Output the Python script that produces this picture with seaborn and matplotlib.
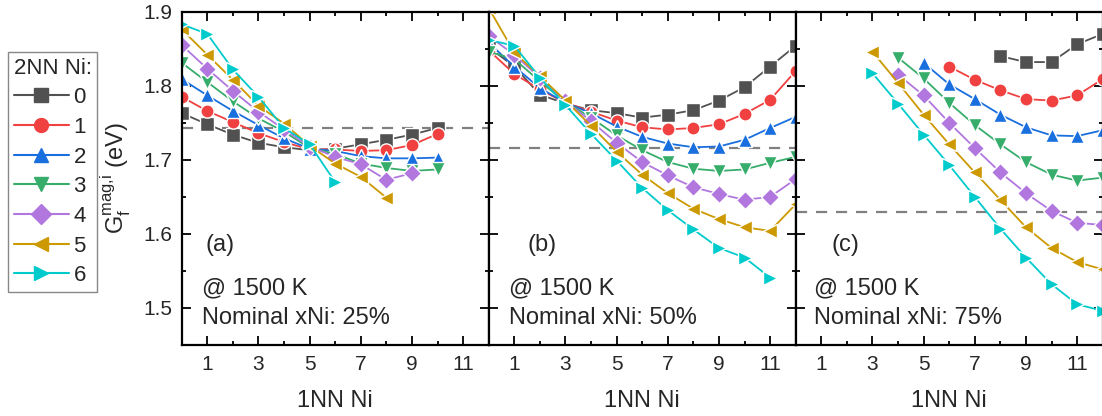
import numpy as np
import pandas as pd
import matplotlib
matplotlib.use("Agg")
import matplotlib.pyplot as plt
from matplotlib.lines import Line2D
from matplotlib.ticker import MultipleLocator
import seaborn as sns

sns.set_theme(style="ticks")
plt.rcParams["font.family"] = ["Liberation Sans", "DejaVu Sans"]
plt.rcParams["mathtext.fontset"] = "custom"
plt.rcParams["mathtext.rm"] = "Liberation Sans"
plt.rcParams["mathtext.it"] = "Liberation Sans:italic"
plt.rcParams["mathtext.default"] = "regular"

nan = np.nan
x_1nn = list(range(13))
nn2_labels = ["0", "1", "2", "3", "4", "5", "6"]

# Panel (a): nominal xNi 25 %
a_0 = [1.763, 1.748, 1.734, 1.723, 1.717, 1.713, 1.715, 1.721, 1.727, 1.734, 1.743, nan, nan]
a_1 = [1.785, 1.766, 1.751, 1.736, 1.724, 1.714, 1.714, 1.712, 1.713, 1.720, 1.735, nan, nan]
a_2 = [1.809, 1.787, 1.766, 1.747, 1.729, 1.715, 1.712, 1.705, 1.702, 1.702, 1.703, nan, nan]
a_3 = [1.831, 1.805, 1.779, 1.756, 1.738, 1.716, 1.708, 1.695, 1.689, 1.685, 1.687, nan, nan]
a_4 = [1.855, 1.823, 1.793, 1.765, 1.741, 1.718, 1.704, 1.694, 1.673, 1.682, nan, nan, nan]
a_5 = [1.876, 1.842, 1.808, 1.773, 1.749, 1.719, 1.695, 1.677, 1.649, nan, nan, nan, nan]
a_6 = [1.883, 1.870, 1.822, 1.785, 1.743, 1.721, 1.670, nan, nan, nan, nan, nan, nan]

# Panel (b): nominal xNi 50 %
b_0 = [1.852, 1.826, 1.788, 1.776, 1.767, 1.763, 1.757, 1.761, 1.767, 1.780, 1.798, 1.826, 1.854]
b_1 = [1.848, 1.816, 1.795, 1.777, 1.765, 1.753, 1.744, 1.741, 1.743, 1.748, 1.762, 1.781, 1.820]
b_2 = [1.858, 1.826, 1.797, 1.777, 1.763, 1.745, 1.731, 1.722, 1.717, 1.718, 1.727, 1.743, 1.758]
b_3 = [1.846, 1.836, 1.806, 1.778, 1.757, 1.733, 1.713, 1.697, 1.688, 1.685, 1.687, 1.696, 1.704]
b_4 = [1.867, 1.842, 1.811, 1.779, 1.752, 1.723, 1.697, 1.679, 1.663, 1.654, 1.646, 1.650, 1.674]
b_5 = [1.905, 1.845, 1.813, 1.780, 1.746, 1.711, 1.680, 1.655, 1.634, 1.620, 1.609, 1.604, 1.640]
b_6 = [1.862, 1.854, 1.811, 1.774, 1.735, 1.699, 1.662, 1.632, 1.606, 1.581, 1.568, 1.541, nan]

# Panel (c): nominal xNi 75 %
c_0 = [nan] * 8 + [1.840, 1.832, 1.832, 1.856, 1.870]
c_1 = [nan] * 6 + [1.826, 1.808, 1.794, 1.782, 1.780, 1.787, 1.809]
c_2 = [nan] * 5 + [1.831, 1.802, 1.782, 1.761, 1.744, 1.733, 1.732, 1.740]
c_3 = [nan] * 4 + [1.838, 1.810, 1.777, 1.747, 1.721, 1.697, 1.680, 1.672, 1.676]
c_4 = [nan] * 4 + [1.815, 1.787, 1.750, 1.716, 1.683, 1.655, 1.631, 1.615, 1.612]
c_5 = [nan] * 3 + [1.846, 1.804, 1.761, 1.721, 1.683, 1.646, 1.609, 1.581, 1.562, 1.552]
c_6 = [nan] * 3 + [1.817, 1.776, 1.734, 1.693, 1.650, 1.607, 1.568, 1.532, 1.505, 1.496]

ref_lines = [1.7425, 1.7165, 1.629]
panel_tags = ["(a)", "(b)", "(c)"]
nominal = ["Nominal xNi: 25%", "Nominal xNi: 50%", "Nominal xNi: 75%"]

colors = ["#515151", "#F14040", "#1A6FDF", "#37AD6B", "#B177DE", "#CC9900", "#00CBCC"]
markers = ["s", "o", "^", "v", "D", "<", ">"]
palette = dict(zip(nn2_labels, colors))
marker_map = dict(zip(nn2_labels, markers))

panels = [[a_0, a_1, a_2, a_3, a_4, a_5, a_6],
          [b_0, b_1, b_2, b_3, b_4, b_5, b_6],
          [c_0, c_1, c_2, c_3, c_4, c_5, c_6]]

rows = []
for p, series in enumerate(panels):
    for lab, ys in zip(nn2_labels, series):
        for xv, yv in zip(x_1nn, ys):
            if not np.isnan(yv):
                rows.append({"panel": p, "x": xv, "y": yv, "nn2": lab})
df = pd.DataFrame(rows)

fig = plt.figure(figsize=(11.02, 4.16), dpi=100)
W, H = 1102, 416
left0 = 181.7 / W
pw = 307.0 / W
bottom = 1 - 345.0 / H
ph = (345.0 - 11.7) / H

axes = []
for p in range(3):
    ax = fig.add_axes([left0 + p * pw, bottom, pw, ph])
    axes.append(ax)
    ax.axhline(ref_lines[p], color="#808080", lw=1.6, ls=(0, (5, 4)), zorder=1)
    sns.lineplot(data=df[df.panel == p], x="x", y="y", hue="nn2", style="nn2",
                 hue_order=nn2_labels, style_order=nn2_labels,
                 palette=palette, markers=marker_map, dashes=False,
                 estimator=None, sort=True, legend=False, ax=ax,
                 linewidth=1.3, markersize=9.5, markeredgewidth=1.0, zorder=2)
    ax.set_xlim(0, 12)
    ax.set_ylim(1.45, 1.9)
    ax.xaxis.set_major_locator(plt.FixedLocator([1, 3, 5, 7, 9, 11]))
    ax.xaxis.set_minor_locator(MultipleLocator(1))
    ax.yaxis.set_major_locator(MultipleLocator(0.1))
    ax.yaxis.set_minor_locator(MultipleLocator(0.05))
    ax.tick_params(which="both", direction="in", top=True, right=True,
                   labelsize=15, pad=7, color="black")
    ax.tick_params(which="major", length=6.5, width=1.3)
    ax.tick_params(which="minor", length=3, width=1.3)
    for s in ax.spines.values():
        s.set_linewidth(1.6)
        s.set_color("black")
    ax.set_xlabel("1NN Ni", fontsize=17, labelpad=12)
    if p == 0:
        ax.set_ylabel(r"$G_f^{mag{,}i}$ (eV)", fontsize=17, labelpad=7)
        ax.yaxis.set_major_formatter(plt.FormatStrFormatter("%.1f"))
    else:
        ax.set_ylabel("")
        ax.tick_params(labelleft=False)

tag_x = [0.076, 0.127, 0.118]
at_x = [0.066, 0.065, 0.059]
for p, ax in enumerate(axes):
    ax.text(tag_x[p], 0.30, panel_tags[p], transform=ax.transAxes,
            fontsize=17, ha="left", va="center")
    ax.text(at_x[p], 0.171, "@ 1500 K", transform=ax.transAxes,
            fontsize=17, ha="left", va="center")
    ax.text(at_x[p], 0.081, nominal[p], transform=ax.transAxes,
            fontsize=17, ha="left", va="center")

handles = [Line2D([], [], color=c, marker=m, markersize=10, lw=1.5,
                  markeredgecolor=c) for c, m in zip(colors, markers)]
leg = fig.legend(handles, nn2_labels, title="2NN Ni:", loc="upper left",
                 bbox_to_anchor=(8 / W, 1 - 52 / H), bbox_transform=fig.transFigure,
                 borderaxespad=0, fontsize=16, title_fontsize=16,
                 handlelength=2.5, handletextpad=0.2, labelspacing=0.39,
                 borderpad=0.25, fancybox=False, framealpha=1,
                 edgecolor="#888888", alignment="left")
leg.get_frame().set_linewidth(1.0)

fig.savefig("out.png", dpi=100)
